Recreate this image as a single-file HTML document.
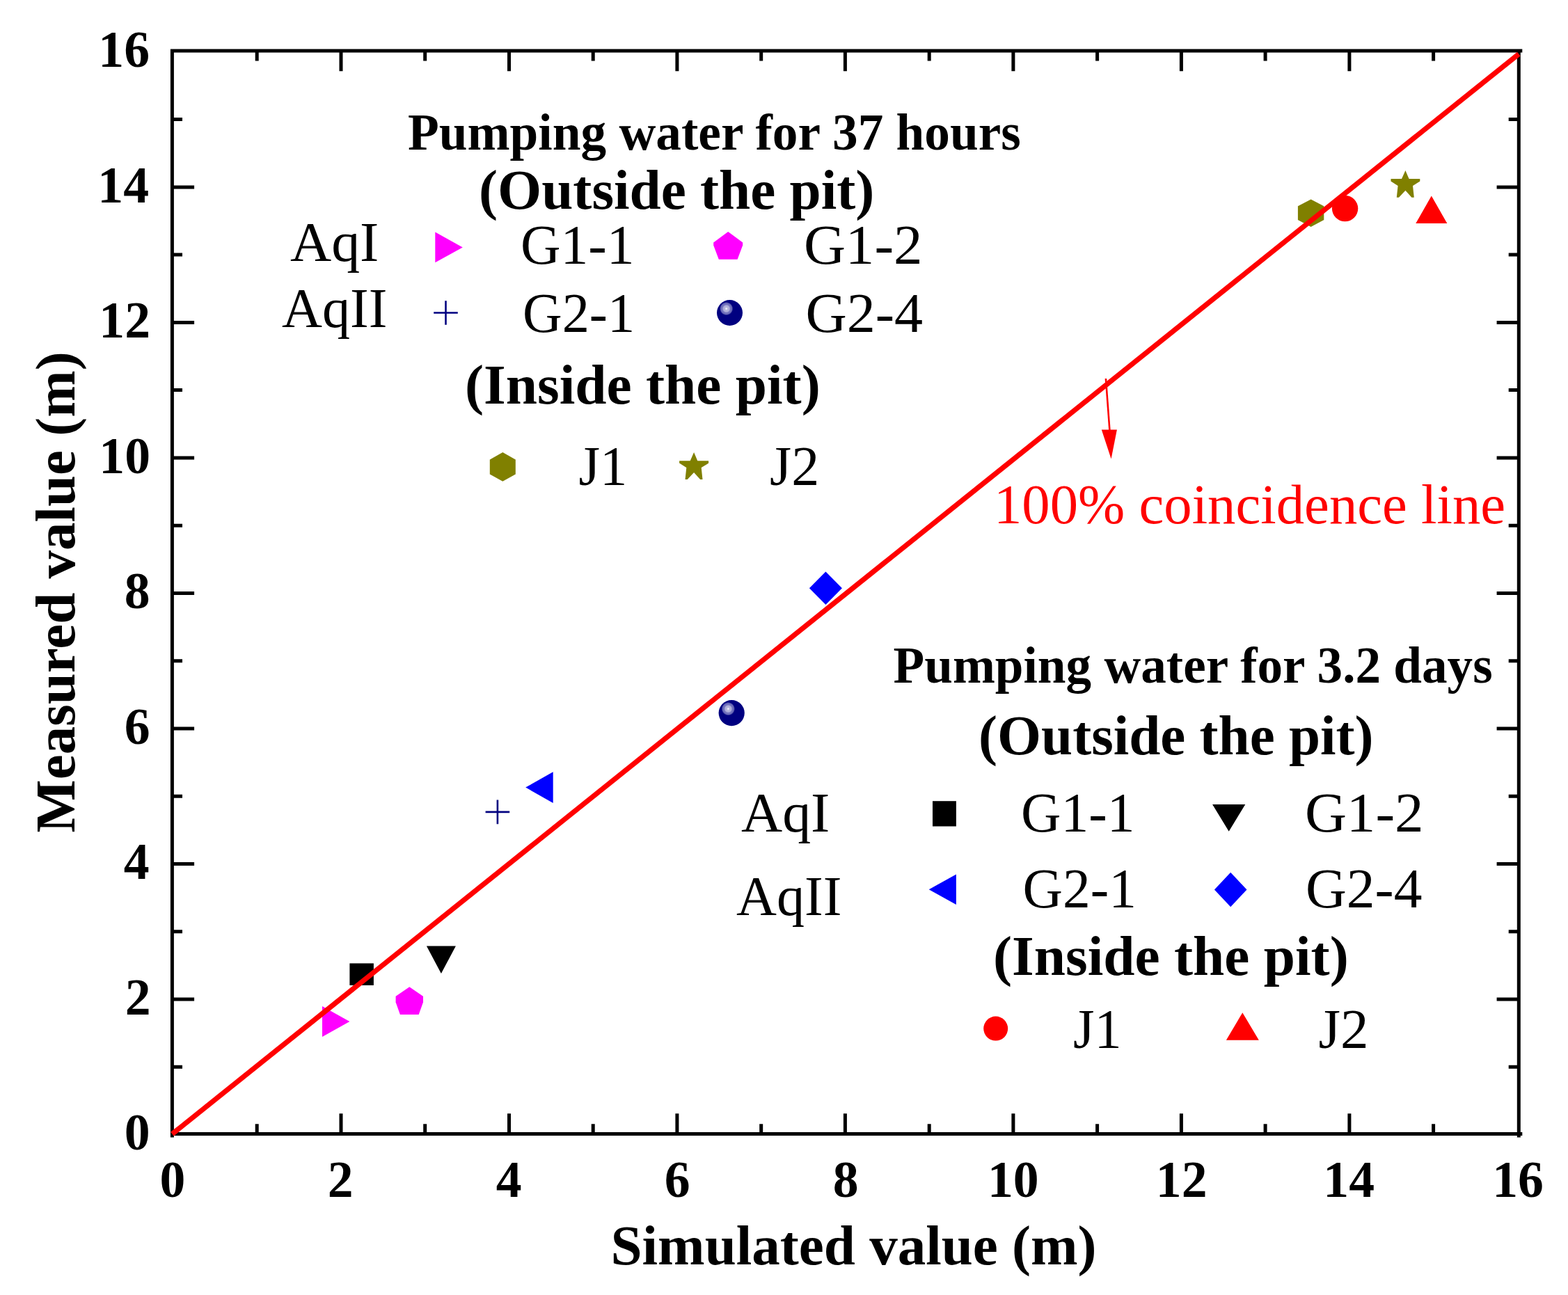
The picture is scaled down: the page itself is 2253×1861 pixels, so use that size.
<!DOCTYPE html>
<html lang="en"><head><meta charset="utf-8"><title>Measured vs simulated value</title>
<style>html,body{margin:0;padding:0;background:#fff;overflow:hidden}svg{display:block}</style></head>
<body>
<svg width="2253" height="1861" viewBox="0 0 2253 1861">
<defs><radialGradient id="sph" cx="0.37" cy="0.34" r="0.6" fx="0.37" fy="0.34"><stop offset="0" stop-color="#ffffff"/><stop offset="0.05" stop-color="#dcdcf0"/><stop offset="0.1" stop-color="#b6b6dd"/><stop offset="0.2" stop-color="#aeaed9"/><stop offset="0.26" stop-color="#7676c0"/><stop offset="0.36" stop-color="#6868b6"/><stop offset="0.43" stop-color="#000080"/><stop offset="1" stop-color="#000080"/></radialGradient></defs>
<rect x="0" y="0" width="2253" height="1861" fill="#fff"/>
<g id="data">
<polygon points="463.0,1445.9 502.4,1467.9 463.0,1489.9" fill="#ff00ff"/>
<rect x="502.4" y="1384.4" width="34.5" height="31.5" fill="#000000"/>
<polygon points="588.3,1418.3 608.0,1431.8 608.0,1440.3 601.7,1457.9 574.9,1457.9 568.6,1440.3 568.6,1431.8" fill="#ff00ff"/>
<polygon points="612.9,1359.6 654.9,1359.6 633.9,1399.0" fill="#000000"/>
<path d="M697.6 1166.9h34.6M714.9 1149.6v34.6" stroke="#000080" stroke-width="2.6" fill="none"/>
<polygon points="794.7,1109.3 755.2,1131.6 794.7,1153.9" fill="#0000ff"/>
<circle cx="1051.2" cy="1024.6" r="18.6" fill="url(#sph)"/>
<polygon points="1162.9,845.2 1186.4,821.5 1209.9,845.2 1186.4,868.9" fill="#0000ff"/>
<polygon points="1883.6,286.5 1902.3,296.3 1902.3,316.1 1883.6,325.9 1864.9,316.1 1864.9,296.3" fill="#808000"/>
<circle cx="1932.6" cy="299.6" r="18.7" fill="#ff0000"/>
<polygon points="2019.4,244.9 2024.6,257.1 2040.3,257.1 2040.3,260.5 2030.0,266.9 2031.8,283.8 2028.4,283.8 2019.4,273.7 2010.0,283.8 2006.8,283.8 2008.6,266.9 1998.5,260.5 1998.5,257.1 2014.0,257.1" fill="#808000"/>
<polygon points="2034.3,320.9 2079.3,320.9 2056.8,281.5" fill="#ff0000"/>
</g>
<g id="axes" stroke="#000" stroke-width="5.0" fill="none" stroke-linecap="butt">
<path d="M247.4 70.5V1634.6M2182.3 70.5V1634.6M244.9 73.0H2187.3M244.9 1629.6H2187.3"/>
<path d="M369.2 1629.6v-14.4M369.2 73.0v14.4M247.4 1533.2h14.6M2182.3 1533.2h-14.6M490.0 1629.6v-29.3M490.0 73.0v29.3M247.4 1436.0h31.7M2182.3 1436.0h-31.7M610.7 1629.6v-14.4M610.7 73.0v14.4M247.4 1338.7h14.6M2182.3 1338.7h-14.6M731.5 1629.6v-29.3M731.5 73.0v29.3M247.4 1241.5h31.7M2182.3 1241.5h-31.7M852.2 1629.6v-14.4M852.2 73.0v14.4M247.4 1144.2h14.6M2182.3 1144.2h-14.6M972.9 1629.6v-29.3M972.9 73.0v29.3M247.4 1046.9h31.7M2182.3 1046.9h-31.7M1093.7 1629.6v-14.4M1093.7 73.0v14.4M247.4 949.7h14.6M2182.3 949.7h-14.6M1214.4 1629.6v-29.3M1214.4 73.0v29.3M247.4 852.4h31.7M2182.3 852.4h-31.7M1335.2 1629.6v-14.4M1335.2 73.0v14.4M247.4 755.2h14.6M2182.3 755.2h-14.6M1455.9 1629.6v-29.3M1455.9 73.0v29.3M247.4 657.9h31.7M2182.3 657.9h-31.7M1576.6 1629.6v-14.4M1576.6 73.0v14.4M247.4 560.6h14.6M2182.3 560.6h-14.6M1697.4 1629.6v-29.3M1697.4 73.0v29.3M247.4 463.4h31.7M2182.3 463.4h-31.7M1818.1 1629.6v-14.4M1818.1 73.0v14.4M247.4 366.1h14.6M2182.3 366.1h-14.6M1938.9 1629.6v-29.3M1938.9 73.0v29.3M247.4 268.9h31.7M2182.3 268.9h-31.7M2059.6 1629.6v-14.4M2059.6 73.0v14.4M247.4 171.6h14.6M2182.3 171.6h-14.6"/>
</g>
<line id="line11" x1="247.4" y1="1629.6" x2="2182.3" y2="77.6" stroke="#ff0000" stroke-width="7.3"/>
<g id="labels" font-family="'Liberation Serif', 'Times New Roman', serif" fill="#000">
<text id="t_title1" x="586.00" y="214.5" font-size="73" font-weight="bold" textLength="880.80" lengthAdjust="spacingAndGlyphs">Pumping water for 37 hours</text>
<text id="t_outside1" x="687.99" y="299.5" font-size="81" font-weight="bold" textLength="568.42" lengthAdjust="spacingAndGlyphs">(Outside the pit)</text>
<text id="t_AqI_1" x="417.00" y="375.0" font-size="81" textLength="127.42" lengthAdjust="spacingAndGlyphs">AqI</text>
<text id="t_G11_1" x="748.04" y="379.0" font-size="81" textLength="163.56" lengthAdjust="spacingAndGlyphs">G1-1</text>
<text id="t_G12_1" x="1154.92" y="379.0" font-size="81" textLength="170.67" lengthAdjust="spacingAndGlyphs">G1-2</text>
<text id="t_AqII_1" x="405.00" y="469.7" font-size="81" textLength="151.53" lengthAdjust="spacingAndGlyphs">AqII</text>
<text id="t_G21_1" x="751.10" y="477.2" font-size="81" textLength="161.05" lengthAdjust="spacingAndGlyphs">G2-1</text>
<text id="t_G24_1" x="1157.45" y="477.2" font-size="81" textLength="168.75" lengthAdjust="spacingAndGlyphs">G2-4</text>
<text id="t_inside1" x="667.98" y="580.2" font-size="81" font-weight="bold" textLength="510.78" lengthAdjust="spacingAndGlyphs">(Inside the pit)</text>
<text id="t_J1_1" x="831.54" y="696.5" font-size="81" textLength="69.86" lengthAdjust="spacingAndGlyphs">J1</text>
<text id="t_J2_1" x="1106.02" y="696.5" font-size="81" textLength="71.16" lengthAdjust="spacingAndGlyphs">J2</text>
<text id="t_coinc" x="1428.02" y="752.4" font-size="81" fill="#ff0000" textLength="735.07" lengthAdjust="spacingAndGlyphs">100% coincidence line</text>
<text id="t_title2" x="1283.50" y="981.0" font-size="73" font-weight="bold" textLength="861.15" lengthAdjust="spacingAndGlyphs">Pumping water for 3.2 days</text>
<text id="t_outside2" x="1406.00" y="1083.7" font-size="81" font-weight="bold" textLength="567.61" lengthAdjust="spacingAndGlyphs">(Outside the pit)</text>
<text id="t_AqI_2" x="1065.00" y="1195.2" font-size="81" textLength="127.42" lengthAdjust="spacingAndGlyphs">AqI</text>
<text id="t_G11_2" x="1467.06" y="1195.2" font-size="81" textLength="163.56" lengthAdjust="spacingAndGlyphs">G1-1</text>
<text id="t_G12_2" x="1874.92" y="1195.2" font-size="81" textLength="170.67" lengthAdjust="spacingAndGlyphs">G1-2</text>
<text id="t_AqII_2" x="1058.00" y="1314.9" font-size="81" textLength="151.53" lengthAdjust="spacingAndGlyphs">AqII</text>
<text id="t_G21_2" x="1469.56" y="1304.2" font-size="81" textLength="163.34" lengthAdjust="spacingAndGlyphs">G2-1</text>
<text id="t_G24_2" x="1875.98" y="1304.2" font-size="81" textLength="167.51" lengthAdjust="spacingAndGlyphs">G2-4</text>
<text id="t_inside2" x="1426.98" y="1401.0" font-size="81" font-weight="bold" textLength="510.78" lengthAdjust="spacingAndGlyphs">(Inside the pit)</text>
<text id="t_J1_2" x="1542.05" y="1505.8" font-size="81" textLength="69.64" lengthAdjust="spacingAndGlyphs">J1</text>
<text id="t_J2_2" x="1894.49" y="1505.8" font-size="81" textLength="72.04" lengthAdjust="spacingAndGlyphs">J2</text>
<text id="t_xtitle" x="877.50" y="1816.6" font-size="81" font-weight="bold" textLength="698.09" lengthAdjust="spacingAndGlyphs">Simulated value (m)</text>
<text id="t_x0" x="229.40" y="1720.4" font-size="73" font-weight="bold" textLength="36.87" lengthAdjust="spacingAndGlyphs">0</text>
<text id="t_y0" x="178.80" y="1652.4" font-size="73" font-weight="bold" textLength="36.87" lengthAdjust="spacingAndGlyphs">0</text>
<text id="t_x2" x="470.85" y="1720.4" font-size="73" font-weight="bold" textLength="36.87" lengthAdjust="spacingAndGlyphs">2</text>
<text id="t_y2" x="179.80" y="1457.9" font-size="73" font-weight="bold" textLength="36.87" lengthAdjust="spacingAndGlyphs">2</text>
<text id="t_x4" x="712.80" y="1720.4" font-size="73" font-weight="bold" textLength="36.87" lengthAdjust="spacingAndGlyphs">4</text>
<text id="t_y4" x="177.80" y="1263.4" font-size="73" font-weight="bold" textLength="36.87" lengthAdjust="spacingAndGlyphs">4</text>
<text id="t_x6" x="954.75" y="1720.4" font-size="73" font-weight="bold" textLength="36.87" lengthAdjust="spacingAndGlyphs">6</text>
<text id="t_y6" x="178.80" y="1068.8" font-size="73" font-weight="bold" textLength="36.87" lengthAdjust="spacingAndGlyphs">6</text>
<text id="t_x8" x="1196.70" y="1720.4" font-size="73" font-weight="bold" textLength="36.87" lengthAdjust="spacingAndGlyphs">8</text>
<text id="t_y8" x="178.80" y="874.3" font-size="73" font-weight="bold" textLength="36.87" lengthAdjust="spacingAndGlyphs">8</text>
<text id="t_x10" x="1418.90" y="1720.4" font-size="73" font-weight="bold" textLength="73.73" lengthAdjust="spacingAndGlyphs">10</text>
<text id="t_y10" x="142.30" y="679.8" font-size="73" font-weight="bold" textLength="73.73" lengthAdjust="spacingAndGlyphs">10</text>
<text id="t_x12" x="1660.85" y="1720.4" font-size="73" font-weight="bold" textLength="73.73" lengthAdjust="spacingAndGlyphs">12</text>
<text id="t_y12" x="142.30" y="485.3" font-size="73" font-weight="bold" textLength="73.73" lengthAdjust="spacingAndGlyphs">12</text>
<text id="t_x14" x="1901.30" y="1720.4" font-size="73" font-weight="bold" textLength="73.73" lengthAdjust="spacingAndGlyphs">14</text>
<text id="t_y14" x="140.30" y="290.8" font-size="73" font-weight="bold" textLength="73.73" lengthAdjust="spacingAndGlyphs">14</text>
<text id="t_x16" x="2144.25" y="1720.4" font-size="73" font-weight="bold" textLength="73.73" lengthAdjust="spacingAndGlyphs">16</text>
<text id="t_y16" x="141.30" y="96.2" font-size="73" font-weight="bold" textLength="73.73" lengthAdjust="spacingAndGlyphs">16</text>
<text id="t_ytitle" transform="translate(107,851) rotate(-90)" text-anchor="middle" font-size="81" font-weight="bold">Measured value (m)</text>
</g>
<g id="legend">
<polygon points="625.3,333.5 664.8,355.4 625.3,377.2" fill="#ff00ff"/>
<polygon points="1046.2,333.1 1067.2,348.6 1067.2,352.6 1059.6,372.7 1032.8,372.7 1025.2,352.6 1025.2,348.6" fill="#ff00ff"/>
<path d="M623.2 449.5h34.6M640.5 432.2v34.6" stroke="#000080" stroke-width="2.6" fill="none"/>
<circle cx="1048.5" cy="449.5" r="18.5" fill="url(#sph)"/>
<polygon points="722.3,650.1 740.8,660.5 740.8,681.4 722.3,691.8 703.8,681.4 703.8,660.5" fill="#808000"/>
<polygon points="997.1,650.0 1002.3,662.2 1018.1,662.2 1018.1,665.6 1007.7,672.1 1009.5,689.0 1006.1,689.0 997.1,678.9 987.7,689.0 984.5,689.0 986.3,672.1 976.1,665.6 976.1,662.2 991.7,662.2" fill="#808000"/>
<rect x="1340.0" y="1151.2" width="33.9" height="36.3" fill="#000000"/>
<polygon points="1742.1,1156.0 1789.3,1156.0 1765.7,1194.7" fill="#000000"/>
<polygon points="1373.9,1256.5 1334.7,1278.2 1373.9,1300.0" fill="#0000ff"/>
<polygon points="1744.9,1278.5 1768.2,1253.8 1791.5,1278.5 1768.2,1303.2" fill="#0000ff"/>
<circle cx="1430.7" cy="1478.1" r="17.5" fill="#ff0000"/>
<polygon points="1761.9,1494.7 1808.8,1494.7 1785.3,1455.2" fill="#ff0000"/>
</g>
<g id="arrow" fill="#ff0000"><path d="M1588.9 544 L1594.4 618" stroke="#ff0000" stroke-width="2.6" fill="none"/><polygon points="1582.8,617.6 1604.9,617.6 1596.6,659.6"/></g>
</svg>
</body></html>
